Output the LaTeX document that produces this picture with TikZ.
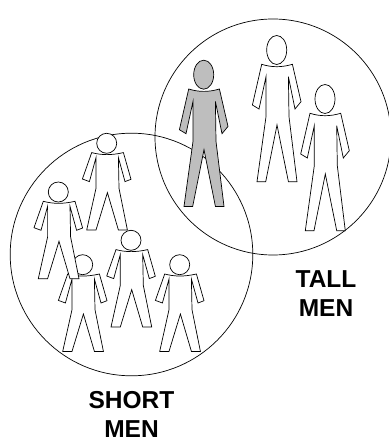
\documentclass[tikz,border=0pt]{standalone}
\usepackage{fontspec}
\setmainfont{Liberation Sans}
\usetikzlibrary{positioning}
\definecolor{ManGray}{HTML}{BEBEBE}
\tikzset{
  ring/.style={draw=black, line width=0.7pt},
  manline/.style={draw=black, line width=0.7pt, line join=miter},
  grouplabel/.style={align=center, font=\fontsize{24.5}{28.5}\selectfont\bfseries, inner sep=0pt},
  tallman/.pic={
    \path[manline, fill=#1] (-15,14.3) .. controls (-5,17.5) and (5,17.5) .. (15.7,14.3)
      -- (24.3,51.7) -- (18.3,59) -- (11.7,26.7) -- (12.3,66.7) -- (20.3,131.7) -- (11.7,131.7)
      -- (0.3,75) -- (-11,131.7) -- (-19.7,131.7) -- (-10.7,66.7) -- (-10.7,26.7)
      -- (-17.7,59) -- (-24.3,55) -- cycle;
    \path[manline, fill=#1] (0,0) ellipse [x radius=10, y radius=14.5];
  },
  shortman/.pic={
    \path[manline, fill=white] (-15,9.3) .. controls (-5,12) and (5,12) .. (16.7,9.3)
      -- (24.3,36) -- (18.3,38.3) -- (11.7,14.3) -- (12.3,45) -- (20.7,86.7) -- (11.7,86.7)
      -- (0.7,49.3) -- (-10.7,86.7) -- (-20,86.7) -- (-10.7,45) -- (-10.7,14.3)
      -- (-17.3,38.3) -- (-24.3,35.7) -- cycle;
    \path[manline, fill=white] (0,0) ellipse [x radius=10, y radius=10];
  },
}
\begin{document}
\begin{tikzpicture}[x=1pt, y=-1pt]
  \useasboundingbox (0,0) rectangle (388,438);
  % the two groups
  \draw[ring] (131.5,254.5) circle [radius=121.3];
  \draw[ring] (273,137) circle [radius=118];
  % short men
  \foreach \px/\py in {82.7/264.7, 58.3/192, 106.7/143.3, 131/240.3, 179.7/264.7}
    \pic at (\px,\py) {shortman};
  % tall men
  \pic at (203.7,74.7) {tallman=ManGray};
  \pic at (276.7,50) {tallman=white};
  \pic at (325,99) {tallman=white};
  \node[grouplabel] (tall) at (326,293.5) {TALL\\MEN};
  \node[grouplabel] (short) at (131.5,414.5) {SHORT\\MEN};
\end{tikzpicture}
\end{document}
